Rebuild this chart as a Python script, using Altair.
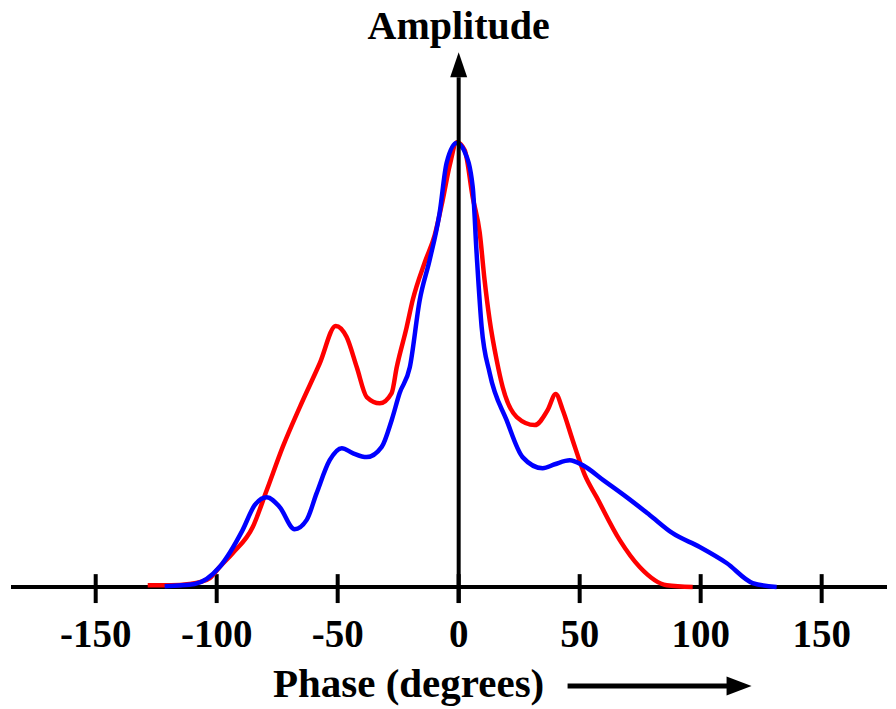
import altair as alt
import pandas as pd

# ---- data ----
red_phase = [-128.5, -119, -111.2, -107.0, -102.9, -98.8, -93.4, -85.1, -79.3, -72.7, -65.7, -57.4,
             -50.8, -46.3, -42.1, -38.0, -32.6, -27.7, -25.6, -21.5, -19.0, -14.0, -9.9, -6.6, -3.7,
             -0.8, 2.5, 5.8, 8.7, 10.7, 12.8, 15.7, 18.2, 24.0, 31.4, 36.8, 40.1, 43.0, 47.1, 52.1,
             57.0, 66.5, 74.8, 86.0, 96.7]
red_amp = [0.004, 0.004, 0.007, 0.011, 0.02, 0.045, 0.076, 0.135, 0.218, 0.315, 0.404, 0.503,
           0.587, 0.562, 0.494, 0.427, 0.413, 0.436, 0.494, 0.584, 0.645, 0.730, 0.791, 0.870, 0.948,
           1.0, 0.982, 0.876, 0.796, 0.690, 0.600, 0.510, 0.449, 0.382, 0.364, 0.398, 0.434, 0.398,
           0.330, 0.252, 0.202, 0.106, 0.045, 0.004, 0.0]

blue_phase = [-121.5, -109.1, -98.8, -89.3, -84.3, -79.3, -74.0, -67.8, -62.8, -58.7, -53.3, -48.3,
              -43.8, -38.0, -31.8, -27.7, -24.4, -20.2, -16.1, -12.0, -7.9, -5.0, -0.8, 2.5, 5.8,
              7.4, 9.5, 12.8, 19.8, 26.4, 34.7, 39.7, 45.9, 51.2, 60.3, 69.4, 78.9, 88.4, 99.6,
              110.7, 121.5, 131.4]
blue_amp = [0.002, 0.007, 0.045, 0.128, 0.184, 0.202, 0.180, 0.130, 0.151, 0.211, 0.285, 0.312,
            0.301, 0.292, 0.315, 0.375, 0.436, 0.494, 0.645, 0.735, 0.840, 0.953, 0.998, 0.978, 0.899,
            0.751, 0.584, 0.481, 0.375, 0.292, 0.267, 0.276, 0.285, 0.274, 0.238, 0.202, 0.162,
            0.121, 0.090, 0.054, 0.009, 0.0]

tick_values = [-150, -100, -50, 0, 50, 100, 150]
tick_labels = ["-150", "-100", "-50", "0", "50", "100", "150"]

x_title = "Phase (degrees)"
y_title = "Amplitude"

# ---- tables ----
red_df = pd.DataFrame({"phase": red_phase, "amp": red_amp})
blue_df = pd.DataFrame({"phase": blue_phase, "amp": blue_amp})
tick_df = pd.DataFrame({"v": tick_values, "label": tick_labels})
zero_df = pd.DataFrame({"v": [0]})

W, H = 876, 698
xs = alt.Scale(domain=[-185, 177], nice=False, zero=False)
ys = alt.Scale(domain=[-0.2719, 1.297], nice=False, zero=False)
FONT = "Liberation Serif"

x_axis_line = alt.Chart(zero_df).mark_rule(color="black", strokeWidth=4).encode(
    x=alt.value(0), x2=alt.value(W),
    y=alt.Y("v:Q", scale=ys, axis=None))

ticks = alt.Chart(tick_df).mark_rule(color="black", strokeWidth=4).encode(
    x=alt.X("v:Q", scale=xs, axis=None),
    y=alt.datum(0.029), y2=alt.datum(-0.036))

tick_text = alt.Chart(tick_df).mark_text(
    font=FONT, fontSize=39, fontWeight="bold", baseline="alphabetic", align="center", color="black"
).encode(x=alt.X("v:Q", scale=xs, axis=None), y=alt.datum(-0.135), text="label:N")

red_line = alt.Chart(red_df).mark_line(color="#ff0000", strokeWidth=4.5, interpolate="monotone").encode(
    x=alt.X("phase:Q", scale=xs, axis=None), y=alt.Y("amp:Q", scale=ys, axis=None))
blue_line = alt.Chart(blue_df).mark_line(color="#0000ff", strokeWidth=4.5, interpolate="monotone").encode(
    x=alt.X("phase:Q", scale=xs, axis=None), y=alt.Y("amp:Q", scale=ys, axis=None))

y_axis_line = alt.Chart(zero_df).mark_rule(color="black", strokeWidth=4).encode(
    x=alt.X("v:Q", scale=xs, axis=None), y=alt.datum(-0.036), y2=alt.datum(1.146))

y_head = alt.Chart(zero_df).mark_point(
    shape="M0,-1L-0.34,0L0.34,0Z", size=2500, filled=True, color="black", opacity=1, strokeWidth=0
).encode(x=alt.X("v:Q", scale=xs, axis=None), y=alt.datum(1.146))

y_label = alt.Chart(zero_df).mark_text(
    font=FONT, fontSize=40, fontWeight="bold", baseline="alphabetic", align="center", color="black"
).encode(x=alt.X("v:Q", scale=xs, axis=None), y=alt.datum(1.2315), text=alt.value(y_title))

x_label = alt.Chart(zero_df).mark_text(
    font=FONT, fontSize=41, fontWeight="bold", baseline="alphabetic", align="center", color="black"
).encode(x=alt.datum(-20.7), y=alt.datum(-0.247), text=alt.value(x_title))

x_arrow_line = alt.Chart(zero_df).mark_rule(color="black", strokeWidth=5).encode(
    x=alt.datum(45.0), x2=alt.datum(112.0), y=alt.datum(-0.2225))

x_head = alt.Chart(zero_df).mark_point(
    shape="M1,0L0,-0.38L0,0.38Z", size=2500, filled=True, color="black", opacity=1, strokeWidth=0
).encode(x=alt.datum(110.7), y=alt.datum(-0.2225))

chart = alt.layer(
    x_axis_line, ticks, tick_text, red_line, blue_line, y_axis_line, y_head,
    y_label, x_label, x_arrow_line, x_head
).properties(
    width=W, height=H,
    autosize=alt.AutoSizeParams(type="none"),
    padding={"left": 3, "top": 2, "right": 0, "bottom": 0},
    background="white",
).configure_view(stroke=None).configure_axis(disable=True)

chart.save("out.html", embed_options={"renderer": "svg", "actions": False})
